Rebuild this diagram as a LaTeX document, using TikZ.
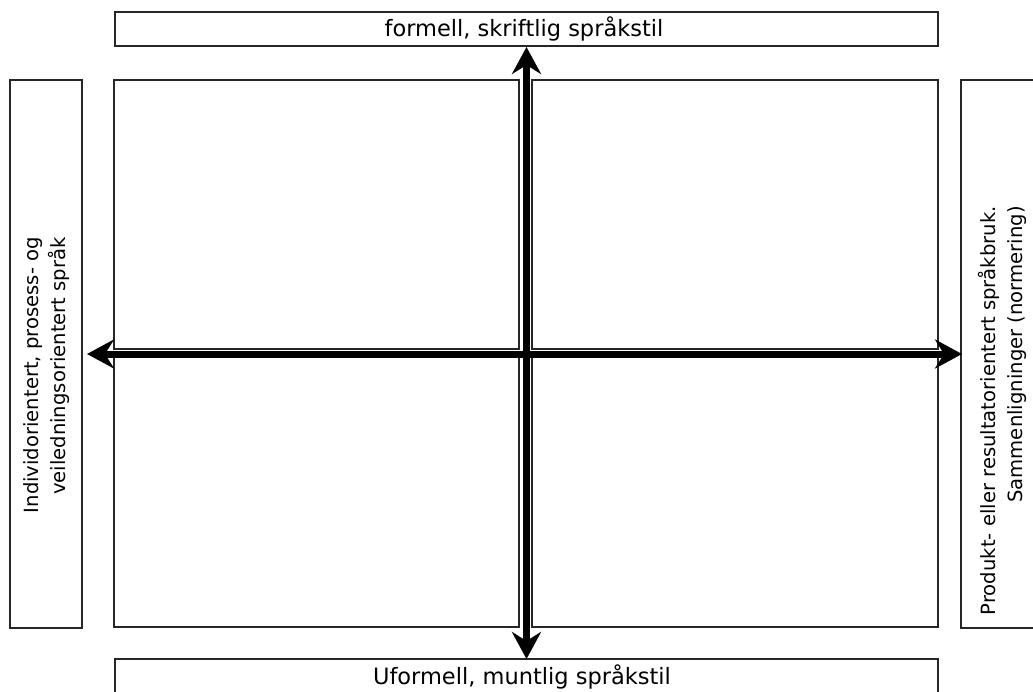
\documentclass[tikz,border=0pt]{standalone}
\usepackage{fontspec}
\setmainfont{DejaVu Sans}
\usetikzlibrary{arrows.meta}
\tikzset{
  frame/.style={draw=black!85, line width=1.3pt, fill=white},
  lbl/.style={text=black, inner sep=0pt},
  hlbl/.style={lbl, font=\fontsize{22.5}{27}\selectfont},
  vlbl/.style={lbl, font=\fontsize{19.6}{27}\selectfont, rotate=90, anchor=east, align=right},
  axis/.style={line width=7pt, black, -{Stealth[length=27pt,width=29pt,inset=9pt]}},
}
\begin{document}
\begin{tikzpicture}[x=1pt,y=-1pt]
\useasboundingbox (0,0) rectangle (1033,691);
\clip (0,0) rectangle (1033,691);
% outer boxes
\node[frame, minimum width=823pt, minimum height=34pt, inner sep=0pt] (topbox) at (526.5,29) {};
\node[frame, minimum width=823pt, minimum height=42pt, inner sep=0pt] (botbox) at (526.5,680) {};
\node[frame, minimum width=72pt, minimum height=548pt, inner sep=0pt] (leftbox) at (46,354) {};
\node[frame, minimum width=90pt, minimum height=548pt, inner sep=0pt] (rightbox) at (1006,354) {};
% quadrants
\node[frame, minimum width=405pt, minimum height=269pt, inner sep=0pt] (tl) at (316.5,214.5) {};
\node[frame, minimum width=406pt, minimum height=269pt, inner sep=0pt] (tr) at (735,214.5) {};
\node[frame, minimum width=405pt, minimum height=272pt, inner sep=0pt] (bl) at (316.5,491) {};
\node[frame, minimum width=406pt, minimum height=272pt, inner sep=0pt] (br) at (735,491) {};
% texts
\node[hlbl] (toptext) at (524,29) {formell, skriftlig språkstil};
\node[hlbl] (bottext) at (522,677) {Uformell, muntlig språkstil};
\node[vlbl] (lefttext) at (46.5,237)
  {Individorientert, prosess- og\\veiledningsorientert språk};
\node[vlbl] (righttext) at (1002,206)
  {Produkt- eller resultatorientert språkbruk.\\Sammenligninger (normering)};
% axes
\coordinate (vc) at (526.5,354);
\coordinate (up) at (526.5,47);
\coordinate (down) at (526.5,659);
\coordinate (lft) at (87,354);
\coordinate (rgt) at (962,354);
\draw[axis] (vc) -- (up);
\draw[axis] (vc) -- (down);
\draw[axis] (vc) -- (lft);
\draw[axis] (vc) -- (rgt);
\end{tikzpicture}
\end{document}
